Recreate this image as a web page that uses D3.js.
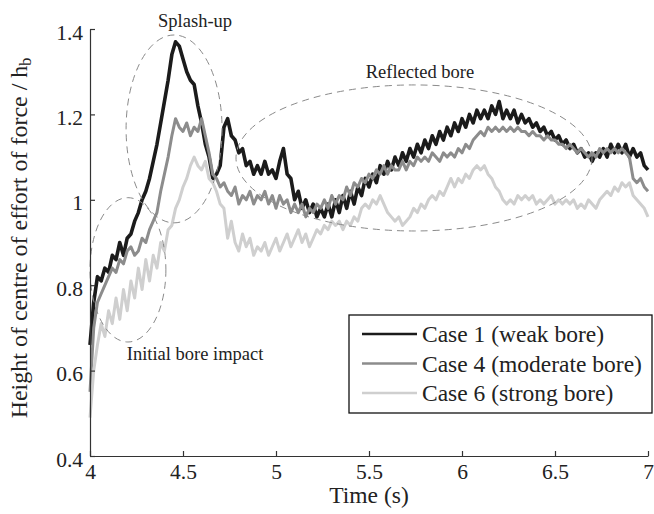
<!DOCTYPE html>
<html>
<head>
<meta charset="utf-8">
<script src="https://cdn.jsdelivr.net/npm/d3@7"></script>
<style>
  html, body { margin: 0; padding: 0; background: #fff; }
  svg { display: block; }
  text { font-family: "Liberation Serif", "Times New Roman", serif; fill: #222; }
</style>
</head>
<body>
<svg id="chart" width="654" height="514"></svg>
<script>
// Time axis: samples every 0.02 s from 4.00 s to 7.00 s
const t0 = 4.0, dt = 0.02;

// Normalised height of the centre of effort of the force (z / h_b)
const case1 = [
  0.66, 0.76, 0.82, 0.81, 0.84, 0.83, 0.87, 0.86, 0.90, 0.87,
  0.91, 0.92, 0.95, 0.97, 1.00, 1.02, 1.05, 1.09, 1.13, 1.18,
  1.23, 1.28, 1.34, 1.37, 1.36, 1.33, 1.30, 1.28, 1.27, 1.22,
  1.18, 1.13, 1.10, 1.05, 1.06, 1.08, 1.17, 1.19, 1.15, 1.14,
  1.11, 1.12, 1.08, 1.09, 1.06, 1.08, 1.06, 1.09, 1.06, 1.07,
  1.05, 1.09, 1.12, 1.06, 1.05, 1.00, 1.02, 0.98, 1.00, 0.97,
  0.99, 0.96, 0.98, 0.96, 0.99, 0.96, 1.00, 0.97, 1.01, 0.98,
  1.02, 0.99, 1.03, 1.01, 1.05, 1.03, 1.06, 1.04, 1.08, 1.06,
  1.09, 1.07, 1.10, 1.08, 1.11, 1.09, 1.12, 1.10, 1.13, 1.11,
  1.14, 1.12, 1.15, 1.13, 1.16, 1.14, 1.17, 1.15, 1.18, 1.16,
  1.19, 1.17, 1.20, 1.18, 1.21, 1.19, 1.21, 1.19, 1.22, 1.20,
  1.23, 1.19, 1.21, 1.19, 1.21, 1.18, 1.20, 1.18, 1.19, 1.17,
  1.18, 1.16, 1.17, 1.15, 1.16, 1.14, 1.15, 1.13, 1.14, 1.12,
  1.13, 1.11, 1.12, 1.10, 1.11, 1.09, 1.11, 1.10, 1.12, 1.10,
  1.13, 1.11, 1.13, 1.11, 1.13, 1.10, 1.12, 1.10, 1.11, 1.08,
  1.07
];

const case4 = [
  0.55, 0.70, 0.76, 0.78, 0.80, 0.82, 0.84, 0.83, 0.86, 0.85,
  0.88, 0.89, 0.87, 0.88, 0.91, 0.90, 0.93, 0.95, 0.97, 1.02,
  1.06, 1.10, 1.15, 1.19, 1.17, 1.16, 1.18, 1.15, 1.17, 1.16,
  1.19, 1.15, 1.11, 1.06, 1.05, 1.03, 1.04, 1.02, 1.01, 1.03,
  0.99, 1.01, 1.00, 1.02, 0.99, 1.01, 1.00, 1.02, 0.99, 1.01,
  0.98, 1.01, 0.99, 1.00, 0.97, 0.99, 0.97, 0.99, 0.96, 0.98,
  0.97, 0.99, 0.98, 1.00, 0.98, 1.01, 0.99, 1.01, 1.00, 1.03,
  1.01, 1.04, 1.03, 1.05, 1.04, 1.06, 1.05, 1.07, 1.06, 1.08,
  1.06, 1.08, 1.07, 1.07, 1.09, 1.07, 1.09, 1.08, 1.10, 1.09,
  1.10, 1.09, 1.11, 1.10, 1.09, 1.11, 1.10, 1.11, 1.10, 1.12,
  1.11, 1.13, 1.12, 1.14, 1.15, 1.16, 1.15, 1.17, 1.16, 1.17,
  1.16, 1.17, 1.16, 1.17, 1.16, 1.17, 1.16, 1.16, 1.15, 1.16,
  1.15, 1.15, 1.14, 1.15, 1.14, 1.14, 1.13, 1.13, 1.12, 1.13,
  1.12, 1.11, 1.12, 1.11, 1.10, 1.11, 1.10, 1.12, 1.11, 1.12,
  1.11, 1.12, 1.11, 1.12, 1.11, 1.10, 1.05, 1.04, 1.05, 1.03,
  1.02
];

const case6 = [
  0.49, 0.60, 0.66, 0.71, 0.68, 0.74, 0.71, 0.77, 0.72, 0.79,
  0.74, 0.81, 0.77, 0.84, 0.79, 0.86, 0.81, 0.87, 0.84, 0.90,
  0.88, 0.93, 0.94, 0.98, 1.00, 1.03, 1.05, 1.08, 1.10, 1.08,
  1.07, 1.09, 1.05, 1.04, 1.02, 0.99, 0.98, 0.91, 0.95, 0.90,
  0.88, 0.92, 0.89, 0.91, 0.87, 0.89, 0.88, 0.90, 0.87, 0.89,
  0.91, 0.88, 0.90, 0.92, 0.89, 0.91, 0.93, 0.90, 0.92, 0.89,
  0.91, 0.93, 0.92, 0.94, 0.93, 0.95, 0.94, 0.95, 0.93, 0.95,
  0.94, 0.96, 0.95, 0.98, 0.99, 0.98, 1.00, 0.99, 1.01, 0.99,
  0.97, 0.96, 0.95, 0.96, 0.94, 0.95, 0.96, 0.98, 0.97, 0.99,
  0.98, 1.00, 1.01, 1.00, 1.02, 1.01, 1.03, 1.05, 1.03, 1.05,
  1.04, 1.06, 1.05, 1.07, 1.08, 1.07, 1.08, 1.06, 1.05, 1.03,
  1.02, 1.00, 0.99, 1.00, 0.99, 1.01, 1.00, 1.01, 1.00, 1.01,
  0.99, 1.00, 0.99, 1.00, 1.01, 0.99, 1.00, 0.99, 1.00, 0.99,
  1.00, 0.98, 0.99, 0.98, 1.00, 0.99, 0.98, 1.00, 1.01, 1.02,
  1.01, 1.03, 1.02, 1.04, 1.03, 1.04, 1.01, 1.00, 0.99, 0.98,
  0.96
];

const seriesNames = ["Case 1 (weak bore)", "Case 4 (moderate bore)", "Case 6 (strong bore)"];
const seriesColors = ["#1b1b1b", "#8c8c8c", "#cfcfcf"];
const seriesWidths = [3.6, 3, 3];

const xTicks = [4, 4.5, 5, 5.5, 6, 6.5, 7];
const yTicks = [0.4, 0.6, 0.8, 1.0, 1.2, 1.4];

// Annotation regions: centre (s, z/h_b) and semi-axes in data units
const regionLabels = ["Splash-up", "Initial bore impact", "Reflected bore"];
const regionCentres = [[4.452, 1.166], [4.204, 0.836], [5.742, 1.098]];
const regionRadii = [[0.258, 0.220], [0.204, 0.169], [0.957, 0.171]];
const labelAnchors = [[4.565, 1.42], [4.565, 0.639], [5.774, 1.30]];

const svg = d3.select("#chart");
const x = d3.scaleLinear().domain([4, 7]).range([90, 648]);
const y = d3.scaleLinear().domain([0.4, 1.4]).range([456, 29]);

const seriesData = [case1, case4, case6].map(vals =>
  vals.map((v, i) => ({ t: t0 + i * dt, v })));

// Curves: weak bore first so the later cases sit on top
const line = d3.line().x(d => x(d.t)).y(d => y(d.v));
svg.append("g").selectAll("path")
  .data(seriesData)
  .join("path")
  .attr("d", line)
  .attr("fill", "none")
  .attr("stroke", (d, i) => seriesColors[i])
  .attr("stroke-width", (d, i) => seriesWidths[i])
  .attr("stroke-linejoin", "round");

// Dashed ellipses marking the flow phases
svg.append("g").selectAll("ellipse")
  .data(regionCentres)
  .join("ellipse")
  .attr("cx", d => x(d[0]))
  .attr("cy", d => y(d[1]))
  .attr("rx", (d, i) => x(t0 + regionRadii[i][0]) - x(t0))
  .attr("ry", (d, i) => y(0.4) - y(0.4 + regionRadii[i][1]))
  .attr("fill", "none")
  .attr("stroke", "#8a8a8a")
  .attr("stroke-width", 1)
  .attr("stroke-dasharray", "7,5");

svg.append("g").selectAll("text")
  .data(regionLabels)
  .join("text")
  .attr("x", (d, i) => x(labelAnchors[i][0]))
  .attr("y", (d, i) => y(labelAnchors[i][1]))
  .attr("text-anchor", "middle")
  .attr("dy", "0.33em")
  .style("font-size", "18.5px")
  .text(d => d);

// Axes with inward ticks, left and bottom only
const xAxis = svg.append("g")
  .attr("transform", `translate(0,${y(0.4)})`)
  .call(d3.axisBottom(x).tickValues(xTicks).tickSizeInner(-5).tickSizeOuter(0)
    .tickFormat(d3.format("~g")));
const yAxis = svg.append("g")
  .attr("transform", `translate(${x(4)},0)`)
  .call(d3.axisLeft(y).tickValues(yTicks).tickSizeInner(-5).tickSizeOuter(0)
    .tickFormat(d3.format("~g")));

[xAxis, yAxis].forEach(g => {
  g.select(".domain").attr("stroke", "#333").attr("stroke-width", 1.2);
  g.selectAll(".tick line").attr("stroke", "#333").attr("stroke-width", 1.2);
  g.selectAll(".tick text")
    .style("font-family", '"Liberation Serif", serif')
    .style("font-size", "21.5px")
    .attr("fill", "#222");
});
xAxis.selectAll(".tick text").attr("y", 23).attr("dy", 0);
yAxis.selectAll(".tick text").attr("x", -7).attr("dy", "0.47em");

svg.append("text")
  .attr("x", x(5.5))
  .attr("y", 503)
  .attr("text-anchor", "middle")
  .style("font-size", "23.5px")
  .text("Time (s)");

const yLabel = svg.append("text")
  .attr("transform", "translate(27,238) rotate(-90)")
  .attr("text-anchor", "middle")
  .style("font-size", "24px");
yLabel.append("tspan").text("Height of centre of effort of force / h");
yLabel.append("tspan").attr("dy", "0.25em").style("font-size", "16px").text("b");

// Legend box
const legend = svg.append("g").attr("transform", "translate(349,315)");
legend.append("rect")
  .attr("width", 303).attr("height", 98)
  .attr("fill", "#fff").attr("stroke", "#111").attr("stroke-width", 1.3);
const rows = legend.selectAll("g.row")
  .data(seriesNames)
  .join("g")
  .attr("class", "row")
  .attr("transform", (d, i) => `translate(0,${19 + i * 29.5})`);
rows.append("line")
  .attr("x1", 13).attr("x2", 68)
  .attr("stroke", (d, i) => seriesColors[i])
  .attr("stroke-width", 2.5);
rows.append("text")
  .attr("x", 73)
  .attr("dy", "0.35em")
  .style("font-size", "23.5px")
  .text(d => d);
</script>
</body>
</html>
